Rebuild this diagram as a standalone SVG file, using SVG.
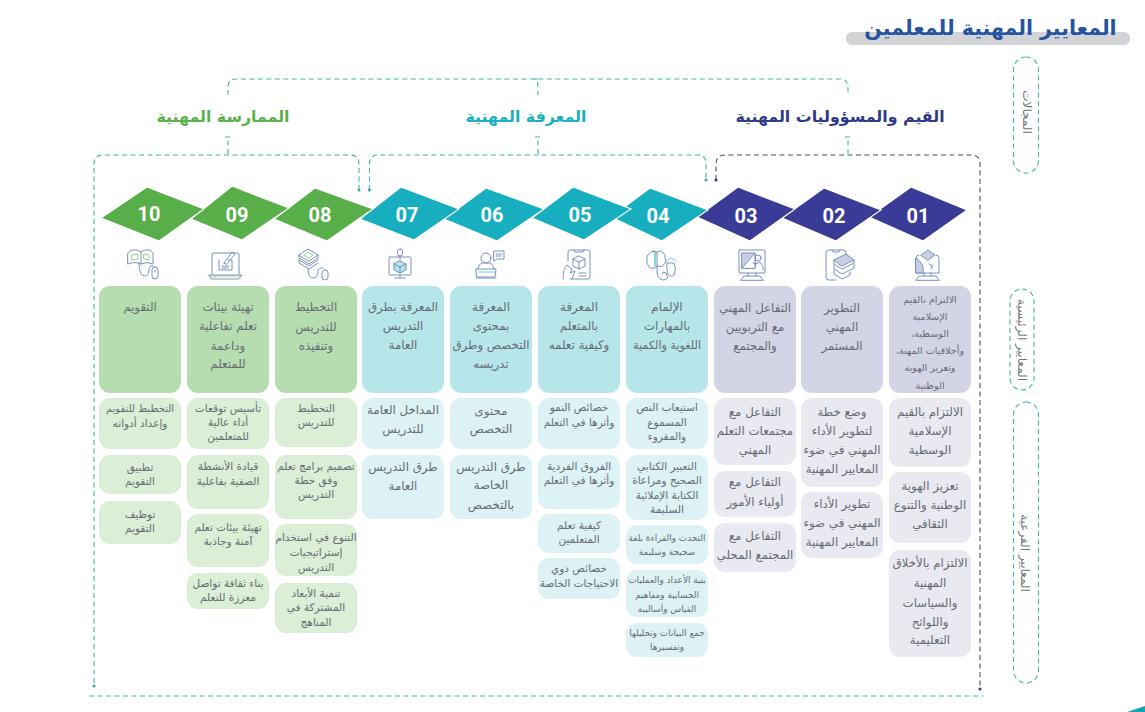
<svg xmlns="http://www.w3.org/2000/svg" width="1145" height="712" viewBox="0 0 1145 712">
<style>
text{font-family:"DejaVu Sans",sans-serif;text-anchor:middle;direction:rtl}
.t{font-size:10.5px;fill:#666c75}
.m{font-size:11.8px;fill:#666c75}
.s{font-size:9.6px;fill:#666c75}
.x{font-size:8.9px;fill:#666c75}
.n{font-family:"Roboto","DejaVu Sans",sans-serif;font-weight:700;font-size:20px;fill:#fff;direction:ltr}
.h{font-size:15.8px;font-weight:700}
.v{font-size:12px;fill:#72767c}
.d{fill:none;stroke:#3fb5a5;stroke-width:1.1;stroke-dasharray:5 3.500}
.k{fill:none;stroke:#4a4d80;stroke-width:1.1;stroke-dasharray:5 3.500}
.g1{fill:#b6ddb0}.g2{fill:#dbeed6}.c1{fill:#b6e6ea}.c2{fill:#dcf2f4}.p1{fill:#d3d4e5}.p2{fill:#e9e9f1}
.dg{fill:#58ae48;stroke:#fff;stroke-width:1.2}.dc{fill:#17afc0;stroke:#fff;stroke-width:1.2}.dp{fill:#3a3b96;stroke:#fff;stroke-width:1.2}
.i{fill:none;stroke:#6a86b8;stroke-width:.9;stroke-linejoin:round;stroke-linecap:round}
</style>
<defs>
<marker id="dot" markerWidth="4" markerHeight="4" refX="2" refY="2" markerUnits="userSpaceOnUse"><circle cx="2" cy="2" r="1.6" fill="#3aa99f"/></marker>
<marker id="dotk" markerWidth="4" markerHeight="4" refX="2" refY="2" markerUnits="userSpaceOnUse"><circle cx="2" cy="2" r="1.6" fill="#3f4280"/></marker>
</defs>

<g id="title">
<rect x="846" y="32" width="284" height="13" rx="6" fill="#d2d3d7"/>
<text x="990.500" y="35" font-size="20.500" font-weight="700" fill="#2454a0">المعايير المهنية للمعلمين</text>
</g>

<g id="connectors">
<path class="d" d="M228 95V87Q228 79 236 79H840Q848 79 848 87V95"/>
<path class="d" d="M538 79H534Q538 80 538 87V95"/>
<path class="d" d="M228 154V137M225 137H231M538 154V137M535 137H541M848 154V137M845 137H851"/>
<path class="d" marker-start="url(#dot)" marker-end="url(#dot)" d="M359 190V164Q359 155 350 155H103Q94 155 94 164V686"/>
<path class="d" marker-start="url(#dot)" marker-end="url(#dot)" d="M369.500 190V164Q369.500 155 378 155H698Q706 155 706 164V180"/>
<path class="k" marker-start="url(#dotk)" marker-end="url(#dotk)" d="M716 180V164Q716 155 725 155H971Q980 155 980 164V689"/>
<path class="d" d="M89 696H983"/>
</g>

<g id="pills">
<rect class="d" x="1013.500" y="57" width="25" height="116" rx="12.500"/>
<rect class="d" x="1010" y="289" width="24" height="101" rx="12"/>
<rect class="d" x="1013.500" y="402" width="25" height="281" rx="12.500"/>
<text class="v" transform="translate(1023,112) rotate(90)">المجالات</text>
<text class="v" transform="translate(1018,340) rotate(90)">المعايير الرئيسية</text>
<text class="v" transform="translate(1021,553) rotate(90)">المعايير الفرعية</text>
</g>

<g id="domain-practice"><text class="h" x="223" y="122" fill="#5ab04a">الممارسة المهنية</text></g>
<g id="domain-knowledge"><text class="h" x="526" y="122" fill="#1ab0c2">المعرفة المهنية</text></g>
<g id="domain-values"><text class="h" x="840" y="122" fill="#2f3a86">القيم والمسؤوليات المهنية</text></g>

<g id="diamonds">
<polygon class="dp" points="869,217 911,187 967,210 923,241"/>
<polygon class="dp" points="782,218 824,188 881,210 836,241"/>
<polygon class="dp" points="697,217 738,187 795,209 750,241"/>
<polygon class="dc" points="611,217 650,188 708,210 662,241"/>
<polygon class="dc" points="532,218 573,187 631,209 584,240"/>
<polygon class="dc" points="444,219 486,188 544,209 497,241"/>
<polygon class="dc" points="360,219 401,187 459,209 414,240"/>
<polygon class="dg" points="274,219 315,188 373,209 327,241"/>
<polygon class="dg" points="191,219 232,186 289,208 242,240"/>
<polygon class="dg" points="101,218 147,187 204,209 159,241"/>
<text class="n" x="918" y="223">01</text><text class="n" x="834" y="223">02</text><text class="n" x="746" y="223">03</text><text class="n" x="658" y="223">04</text><text class="n" x="580" y="222">05</text><text class="n" x="492" y="222">06</text><text class="n" x="407" y="222">07</text><text class="n" x="320" y="222">08</text><text class="n" x="237" y="222">09</text><text class="n" x="149" y="221">10</text>
</g>

<g id="icon-10" class="i" transform="translate(127,248)"><path d="M1 5L5 2Q11 1 14 4Q17 1 23 2L26 5V16Q20 13 14 16Q8 13 1 16Z"/><path d="M14 4V16"/><path stroke="#8ccb82" d="M5 7L11 6V11L5 12ZM17 6L22 7V12L17 11Z"/><path d="M12 15Q12 28 18 28Q22 28 22 21Q23 17 27 18"/><rect x="25" y="19" width="6" height="12" rx="3"/><path d="M28 22V24"/></g>
<g id="icon-09" class="i" transform="translate(208,250)"><path d="M4 24V5Q4 3 6 3H29Q31 3 31 5V24"/><path d="M1 25H34L31 29H4Z"/><path stroke="#8ccb82" d="M3 26H32"/><path d="M11 10V20H24V10H20"/><path d="M16 13L24 2L27 4L19 14Z"/><path d="M14 16H21M14 18H20"/></g>
<g id="icon-08" class="i" transform="translate(298,248)"><path d="M1 7L10 1L20 7L11 13Z"/><path stroke="#8ccb82" d="M6 7L10 4L15 7L11 10Z"/><path d="M1 7V10L11 16L20 10V7"/><path d="M1 12L11 18L20 12M1 12V15L11 21L20 15"/><path d="M10 21Q10 31 16 30Q20 29 20 23Q21 19 25 20"/><rect x="24" y="22" width="6" height="10" rx="3"/></g>
<g id="icon-07" class="i" transform="translate(388,248)"><rect x="1" y="9" width="22" height="18" rx="1"/><path d="M7 30H17M12 27V30"/><rect x="9.500" y="1" width="5" height="7" rx="2.500"/><path d="M12 8V12"/><path d="M12 13L18 16V22L12 25L6 22V16Z" fill="#b6e6ea"/><path d="M6 16L12 19L18 16M12 19V25"/></g>
<g id="icon-06" class="i" transform="translate(475,250)"><circle cx="11" cy="8" r="5"/><path d="M3 19Q4 13 8 13H14Q18 13 19 19"/><path d="M1 19H21L20 27H2Z"/><path d="M3 22H20" stroke="#5fc4d0"/><path d="M1 28H21"/><path d="M19 1H29V9H22L19 11Z"/><path d="M21 4H27M21 6H26"/></g>
<g id="icon-05" class="i" transform="translate(562,249)"><path d="M6 12V3Q6 1 8 1H26Q28 1 28 3V28Q28 30 26 30H8"/><path d="M12 1L13 3H21L22 1"/><path d="M17 7L23 10V17L17 20L11 17V10Z"/><path d="M11 10L17 13L23 10M17 13V20"/><path d="M1 30Q1 20 5 16L10 20L8 24L13 22L10 30"/><path d="M17 24H24M17 27H24"/></g>
<g id="icon-04" class="i" transform="translate(646,249)"><path d="M10 3Q5 1 3 5Q0 6 1 10Q0 14 2 16Q3 20 8 19Q10 19 11 17V4Q11 2 8 2Z"/><path d="M11 3Q15 1 17 4Q20 5 19 9Q21 12 18 15Q17 19 11 17"/><path d="M9 3V17" stroke="#5fc4d0" stroke-width="1.500"/><path d="M11 18Q10 30 17 31Q24 31 20 24Q15 22 17 25"/><path d="M21 14H28Q31 20 28 26Q24 29 22 25Q20 19 21 14Z"/><path d="M20 12L25 9L30 12" stroke="#5fc4d0"/></g>
<g id="icon-03" class="i" transform="translate(738,249)"><rect x="1" y="1" width="26" height="23" rx="1"/><rect x="4" y="4" width="13" height="15" fill="#c9cfe2"/><path d="M4 19L17 4V19Z" fill="#fff"/><circle cx="20" cy="9" r="3"/><path d="M15 14L18 15L22 13L25 18V21"/><path d="M10 24V27M18 24V27M3 31L6 27H22L25 31Z"/></g>
<g id="icon-02" class="i" transform="translate(825,249)"><path d="M11 31H4Q1 31 1 28V4Q1 1 4 1H18Q21 1 21 4V6"/><path d="M7 1L8 3H14L15 1"/><path d="M9 11L21 5L29 11L17 17Z" fill="#c9cfe2"/><path d="M9 11V15L17 20L29 14V11"/><path d="M9 16V20L17 25L29 19V15"/><path d="M9 21V25L17 30L25 26V23"/></g>
<g id="icon-01" class="i" transform="translate(915,249)"><path d="M4 6Q1 6 1 9V24H24V9Q24 6 21 6"/><path d="M6 6L13 1L20 6L13 11Z" fill="#c9cfe2"/><path d="M1 9Q10 15 8 24H1Z" fill="#c9cfe2"/><path d="M14 15L18 17L16 18L17 20"/><path d="M9 24V27M16 24V27M1 31L4 27H21L24 31Z"/></g>

<g id="col-10">
<rect class="g1" x="99" y="286" width="82" height="107" rx="11"/>
<rect class="g2" x="99" y="398" width="82" height="51" rx="11"/><rect class="g2" x="99" y="455" width="82" height="39" rx="11"/><rect class="g2" x="99" y="501" width="82" height="43" rx="11"/>
<text class="m" x="140" y="311">التقويم</text>
<text class="t" x="140" y="412" style="font-size:10px">التخطيط للتقويم</text><text class="t" x="140" y="427">وإعداد أدواته</text>
<text class="t" x="140" y="471">تطبيق</text><text class="t" x="140" y="485">التقويم</text>
<text class="t" x="140" y="518">توظيف</text><text class="t" x="140" y="532">التقويم</text>
</g>
<g id="col-09">
<rect class="g1" x="187" y="286" width="82" height="107" rx="11"/>
<rect class="g2" x="187" y="398" width="82" height="51" rx="11"/><rect class="g2" x="187" y="455" width="82" height="54" rx="11"/><rect class="g2" x="187" y="514" width="82" height="53" rx="11"/><rect class="g2" x="187" y="573" width="82" height="36" rx="11"/>
<text class="m" x="228" y="311">تهيئة بيئات</text><text class="m" x="228" y="330">تعلم تفاعلية</text><text class="m" x="228" y="350">وداعمة</text><text class="m" x="228" y="368">للمتعلم</text>
<text class="t" x="228" y="412">تأسيس توقعات</text><text class="t" x="228" y="426">أداء عالية</text><text class="t" x="228" y="440">للمتعلمين</text>
<text class="t" x="228" y="470">قيادة  الأنشطة</text><text class="t" x="228" y="485">الصفية بفاعلية</text>
<text class="t" x="228" y="531">تهيئة بيئات تعلم</text><text class="t" x="228" y="545">آمنة وجاذبة</text>
<text class="t" x="228" y="587">بناء ثقافة تواصل</text><text class="t" x="228" y="601">معززة للتعلم</text>
</g>
<g id="col-08">
<rect class="g1" x="275" y="286" width="82" height="107" rx="11"/>
<rect class="g2" x="275" y="398" width="82" height="49" rx="11"/><rect class="g2" x="275" y="455" width="82" height="64" rx="11"/><rect class="g2" x="275" y="524" width="82" height="52" rx="11"/><rect class="g2" x="275" y="583" width="82" height="50" rx="11"/>
<text class="m" x="316" y="311">التخطيط</text><text class="m" x="316" y="331">للتدريس</text><text class="m" x="316" y="350">وتنفيذه</text>
<text class="t" x="316" y="412">التخطيط</text><text class="t" x="316" y="426">للتدريس</text>
<text class="t" x="316" y="470">تصميم برامج تعلم</text><text class="t" x="316" y="484">وفق خطة</text><text class="t" x="316" y="498">التدريس</text>
<text class="t" x="316" y="541">التنوع في استخدام</text><text class="t" x="316" y="556">إستراتيجيات</text><text class="t" x="316" y="571">التدريس</text>
<text class="t" x="316" y="597">تنمية الأبعاد</text><text class="t" x="316" y="611">المشتركة في</text><text class="t" x="316" y="626">المناهج</text>
</g>
<g id="col-07">
<rect class="c1" x="362" y="286" width="82" height="107" rx="11"/>
<rect class="c2" x="362" y="398" width="82" height="51" rx="11"/><rect class="c2" x="362" y="455" width="82" height="64" rx="11"/>
<text class="m" x="403" y="311">المعرفة بطرق</text><text class="m" x="403" y="330">التدريس</text><text class="m" x="403" y="349">العامة</text>
<text class="m" x="403" y="414">المداخل العامة</text><text class="m" x="403" y="433">للتدريس</text>
<text class="m" x="403" y="471">طرق التدريس</text><text class="m" x="403" y="490">العامة</text>
</g>
<g id="col-06">
<rect class="c1" x="450" y="286" width="82" height="107" rx="11"/>
<rect class="c2" x="450" y="398" width="82" height="51" rx="11"/><rect class="c2" x="450" y="455" width="82" height="64" rx="11"/>
<text class="m" x="491" y="311">المعرفة</text><text class="m" x="491" y="330">بمحتوى</text><text class="m" x="491" y="349">التخصص وطرق</text><text class="m" x="491" y="368">تدريسه</text>
<text class="m" x="491" y="415">محتوى</text><text class="m" x="491" y="433">التخصص</text>
<text class="m" x="491" y="471">طرق التدريس</text><text class="m" x="491" y="489">الخاصة</text><text class="m" x="491" y="509">بالتخصص</text>
</g>
<g id="col-05">
<rect class="c1" x="538" y="286" width="82" height="107" rx="11"/>
<rect class="c2" x="538" y="398" width="82" height="51" rx="11"/><rect class="c2" x="538" y="455" width="82" height="54" rx="11"/><rect class="c2" x="538" y="514" width="82" height="39" rx="11"/><rect class="c2" x="538" y="558" width="82" height="41" rx="11"/>
<text class="m" x="579" y="311">المعرفة</text><text class="m" x="579" y="330">بالمتعلم</text><text class="m" x="579" y="349">وكيفية تعلمه</text>
<text class="t" x="579" y="411">خصائص النمو</text><text class="t" x="579" y="426">وأثرها في التعلم</text>
<text class="t" x="579" y="470">الفروق الفردية</text><text class="t" x="579" y="484">وأثرها في التعلم</text>
<text class="t" x="579" y="529">كيفية تعلم</text><text class="t" x="579" y="543">المتعلمين</text>
<text class="t" x="579" y="572">خصائص ذوي</text><text class="t" x="579" y="587">الاحتياجات الخاصة</text>
</g>
<g id="col-04">
<rect class="c1" x="626" y="286" width="82" height="107" rx="11"/>
<rect class="c2" x="626" y="398" width="82" height="51" rx="11"/><rect class="c2" x="626" y="455" width="82" height="65" rx="11"/><rect class="c2" x="626" y="525" width="82" height="39" rx="11"/><rect class="c2" x="626" y="570" width="82" height="47" rx="11"/><rect class="c2" x="626" y="623" width="82" height="34" rx="11"/>
<text class="m" x="667" y="311">الإلمام</text><text class="m" x="667" y="330">بالمهارات</text><text class="m" x="667" y="349" style="font-size:11.2px">اللغوية والكمية</text>
<text class="t" x="667" y="411">استيعاب النص</text><text class="t" x="667" y="426">المسموع</text><text class="t" x="667" y="440">والمقروء</text>
<text class="t" x="667" y="470">التعبير الكتابي</text><text class="t" x="667" y="484">الصحيح ومراعاة</text><text class="t" x="667" y="499">الكتابة الإملائية</text><text class="t" x="667" y="513">السليمة</text>
<text class="x" x="667" y="541">التحدث والقراءة بلغة</text><text class="x" x="667" y="555">صحيحة وسليمة</text>
<text class="x" x="667" y="583">بنية الأعداد والعمليات</text><text class="x" x="667" y="598">الحسابية ومفاهيم</text><text class="x" x="667" y="612">القياس وأساليبه</text>
<text class="x" x="667" y="636">جمع البيانات وتحليلها</text><text class="x" x="667" y="650">وتفسيرها</text>
</g>
<g id="col-03">
<rect class="p1" x="714" y="286" width="82" height="107" rx="11"/>
<rect class="p2" x="714" y="398" width="82" height="67" rx="11"/><rect class="p2" x="714" y="471" width="82" height="46" rx="11"/><rect class="p2" x="714" y="523" width="82" height="49" rx="11"/>
<text class="m" x="755" y="312">التفاعل المهني</text><text class="m" x="755" y="331">مع التربويين</text><text class="m" x="755" y="350">والمجتمع</text>
<text class="m" x="755" y="416">التفاعل مع</text><text class="m" x="755" y="435">مجتمعات التعلم</text><text class="m" x="755" y="454">المهني</text>
<text class="m" x="755" y="486">التفاعل مع</text><text class="m" x="755" y="506">أولياء الأمور</text>
<text class="m" x="755" y="540">التفاعل مع</text><text class="m" x="755" y="559">المجتمع المحلي</text>
</g>
<g id="col-02">
<rect class="p1" x="801" y="286" width="82" height="107" rx="11"/>
<rect class="p2" x="801" y="398" width="82" height="89" rx="11"/><rect class="p2" x="801" y="492" width="82" height="66" rx="11"/>
<text class="m" x="842" y="312">التطوير</text><text class="m" x="842" y="331">المهني</text><text class="m" x="842" y="350">المستمر</text>
<text class="m" x="842" y="416">وضع خطة</text><text class="m" x="842" y="435">لتطوير الأداء</text><text class="m" x="842" y="454">المهني في ضوء</text><text class="m" x="842" y="473">المعايير المهنية</text>
<text class="m" x="842" y="508">تطوير  الأداء</text><text class="m" x="842" y="527">المهني في ضوء</text><text class="m" x="842" y="546">المعايير المهنية</text>
</g>
<g id="col-01">
<rect class="p1" x="889" y="286" width="82" height="107" rx="11"/>
<rect class="p2" x="889" y="398" width="82" height="69" rx="11"/><rect class="p2" x="889" y="472" width="82" height="71" rx="11"/><rect class="p2" x="889" y="550" width="82" height="107" rx="11"/>
<text class="s" x="930" y="303">الالتزام بالقيم</text><text class="s" x="930" y="320">الإسلامية</text><text class="s" x="930" y="337">الوسطية،</text><text class="s" x="930" y="354">وأخلاقيات المهنة،</text><text class="s" x="930" y="371">وتعزيز الهوية</text><text class="s" x="930" y="389">الوطنية</text>
<text class="m" x="930" y="416">الالتزام بالقيم</text><text class="m" x="930" y="435">الإسلامية</text><text class="m" x="930" y="454">الوسطية</text>
<text class="m" x="930" y="490">تعزيز الهوية</text><text class="m" x="930" y="509">الوطنية والتنوع</text><text class="m" x="930" y="528">الثقافي</text>
<text class="m" x="930" y="567">الالتزام بالأخلاق</text><text class="m" x="930" y="587">المهنية</text><text class="m" x="930" y="607">والسياسات</text><text class="m" x="930" y="626">واللوائح</text><text class="m" x="930" y="644">التعليمية</text>
</g>
<polygon id="corner" points="1127,712 1145,706 1145,712" fill="#17a3b5"/>
</svg>
